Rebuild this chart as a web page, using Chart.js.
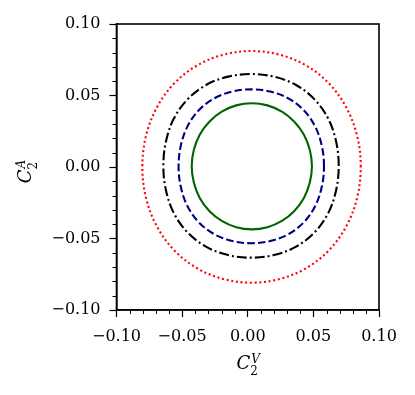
<!DOCTYPE html>
<html>
<head>
<meta charset="utf-8">
<script src="https://cdn.jsdelivr.net/npm/chart.js@4/dist/chart.umd.min.js"></script>
<style>
  html, body { margin: 0; padding: 0; background: #fff; }
</style>
</head>
<body>
<canvas id="c" width="415" height="395"></canvas>
<script>
// --- axis ticks ---
const tickValues = [-0.1, -0.05, 0, 0.05, 0.1];
const tickLabels = ['\u22120.10', '\u22120.05', '0.00', '0.05', '0.10'];
const minorTicks = [-0.09, -0.08, -0.07, -0.06, -0.04, -0.03, -0.02, -0.01,
                    0.01, 0.02, 0.03, 0.04, 0.06, 0.07, 0.08, 0.09];

// --- contours, counter-clockwise from the right ---
const redContour = [
  [0.0861, 0.0001], [0.0835, 0.0211], [0.0755, 0.0409], [0.0623, 0.0580],
  [0.0448, 0.0708], [0.0245, 0.0785], [0.0029, 0.0811], [-0.0187, 0.0785],
  [-0.0390, 0.0708], [-0.0565, 0.0580], [-0.0697, 0.0409], [-0.0777, 0.0211],
  [-0.0803, 0.0001], [-0.0777, -0.0209], [-0.0697, -0.0407], [-0.0565, -0.0578],
  [-0.0390, -0.0706], [-0.0187, -0.0783], [0.0029, -0.0809], [0.0245, -0.0783],
  [0.0448, -0.0706], [0.0623, -0.0578], [0.0755, -0.0407], [0.0835, -0.0209]
];
const blackContour = [
  [0.0693, 0.0008], [0.0674, 0.0175], [0.0615, 0.0335], [0.0509, 0.0473],
  [0.0365, 0.0575], [0.0199, 0.0632], [0.0025, 0.0650], [-0.0149, 0.0632],
  [-0.0315, 0.0575], [-0.0459, 0.0473], [-0.0565, 0.0335], [-0.0624, 0.0175],
  [-0.0643, 0.0008], [-0.0624, -0.0159], [-0.0565, -0.0319], [-0.0459, -0.0457],
  [-0.0315, -0.0559], [-0.0149, -0.0616], [0.0025, -0.0634], [0.0199, -0.0616],
  [0.0365, -0.0559], [0.0509, -0.0457], [0.0615, -0.0319], [0.0674, -0.0159]
];
const navyContour = [
  [0.0581, 0.0005], [0.0565, 0.0145], [0.0516, 0.0279], [0.0429, 0.0395],
  [0.0309, 0.0480], [0.0171, 0.0528], [0.0027, 0.0543], [-0.0117, 0.0528],
  [-0.0255, 0.0480], [-0.0375, 0.0395], [-0.0462, 0.0279], [-0.0511, 0.0145],
  [-0.0527, 0.0005], [-0.0511, -0.0135], [-0.0462, -0.0269], [-0.0375, -0.0385],
  [-0.0255, -0.0470], [-0.0117, -0.0518], [0.0027, -0.0533], [0.0171, -0.0518],
  [0.0309, -0.0470], [0.0429, -0.0385], [0.0516, -0.0269], [0.0565, -0.0135]
];
const greenContour = [
  [0.0489, 0.0005], [0.0473, 0.0119], [0.0428, 0.0226], [0.0355, 0.0317],
  [0.0260, 0.0387], [0.0150, 0.0431], [0.0031, 0.0446], [-0.0088, 0.0431],
  [-0.0198, 0.0387], [-0.0293, 0.0317], [-0.0366, 0.0226], [-0.0411, 0.0119],
  [-0.0427, 0.0005], [-0.0411, -0.0109], [-0.0366, -0.0216], [-0.0293, -0.0307],
  [-0.0198, -0.0377], [-0.0088, -0.0421], [0.0031, -0.0436], [0.0150, -0.0421],
  [0.0260, -0.0377], [0.0355, -0.0307], [0.0428, -0.0216], [0.0473, -0.0109]
];

const tickFont = { family: 'DejaVu Serif', size: 16 };

function toXY(points) {
  return points.map(p => ({ x: p[0], y: p[1] }));
}

// make every contour a closed, smooth loop (same trick the radar chart uses)
const closeLoops = {
  id: 'closeLoops',
  afterDatasetsUpdate(chart) {
    chart.data.datasets.forEach((d, i) => {
      const line = chart.getDatasetMeta(i).dataset;
      if (!line) return;
      line._loop = true;
      line._fullLoop = true;
      line._segments = undefined;
      line._pointsUpdated = false;
    });
  }
};

// frame, minor ticks and the axis titles with sub/superscripts
const extras = {
  id: 'extras',
  afterDraw(chart) {
    const ctx = chart.ctx;
    const a = chart.chartArea;
    const xs = chart.scales.x, ys = chart.scales.y;
    ctx.save();
    ctx.strokeStyle = '#000';
    ctx.lineWidth = 1;
    minorTicks.forEach(v => {
      const px = Math.round(xs.getPixelForValue(v)) + 0.5;
      ctx.beginPath(); ctx.moveTo(px, a.bottom); ctx.lineTo(px, a.bottom + 4); ctx.stroke();
      const py = Math.round(ys.getPixelForValue(v)) + 0.5;
      ctx.beginPath(); ctx.moveTo(a.left - 4, py); ctx.lineTo(a.left, py); ctx.stroke();
    });
    ctx.lineWidth = 1.6;
    ctx.strokeRect(a.left, a.top, a.right - a.left, a.bottom - a.top);

    function label(sup) {
      ctx.font = 'italic 18px "DejaVu Serif"';
      const wC = ctx.measureText('C').width;
      ctx.font = '12px "DejaVu Serif"';
      const w2 = ctx.measureText('2').width;
      ctx.font = 'italic 12px "DejaVu Serif"';
      const wS = ctx.measureText(sup).width;
      const total = wC + Math.max(w2, wS);
      const x0 = -total / 2;
      ctx.fillStyle = '#000';
      ctx.textBaseline = 'alphabetic';
      ctx.textAlign = 'left';
      ctx.font = 'italic 18px "DejaVu Serif"';
      ctx.fillText('C', x0, 0);
      ctx.font = '12px "DejaVu Serif"';
      ctx.fillText('2', x0 + wC, 6);
      ctx.font = 'italic 12px "DejaVu Serif"';
      ctx.fillText(sup, x0 + wC + 1, -6);
    }
    ctx.save();
    ctx.translate((a.left + a.right) / 2, 369);
    label('V');
    ctx.restore();
    ctx.save();
    ctx.translate(31, (a.top + a.bottom) / 2 + 5);
    ctx.rotate(-Math.PI / 2);
    label('A');
    ctx.restore();
    ctx.restore();
  }
};

function axis(fit, pad) {
  return {
    type: 'linear',
    min: -0.1,
    max: 0.1,
    afterBuildTicks(s) { s.ticks = tickValues.map(v => ({ value: v })); },
    afterFit: fit,
    ticks: {
      callback: (v, i) => tickLabels[i],
      font: tickFont,
      color: '#000',
      autoSkip: false,
      maxRotation: 0,
      padding: pad
    },
    grid: {
      drawOnChartArea: false,
      drawTicks: true,
      tickLength: 7,
      tickWidth: 1.2,
      tickColor: '#000'
    },
    border: { display: true, color: '#000', width: 1.6 }
  };
}

new Chart(document.getElementById('c'), {
  type: 'line',
  data: {
    datasets: [
      { data: toXY(redContour), borderColor: '#ff0000', borderWidth: 2.1, borderDash: [2, 2.7] },
      { data: toXY(blackContour), borderColor: '#000000', borderWidth: 2.1, borderDash: [10, 3, 2, 3] },
      { data: toXY(navyContour), borderColor: '#000080', borderWidth: 2.1, borderDash: [7.5, 3.2] },
      { data: toXY(greenContour), borderColor: '#006400', borderWidth: 2.1 }
    ].map(d => Object.assign(d, { pointRadius: 0, tension: 0.35, fill: false, spanGaps: true }))
  },
  options: {
    responsive: false,
    animation: false,
    devicePixelRatio: 1,
    layout: { padding: { top: 24, right: 36, left: 0, bottom: 0 } },
    plugins: { legend: { display: false }, tooltip: { enabled: false } },
    scales: {
      x: axis(s => { s.height = 85; }, 10),
      y: axis(s => { s.width = 116.5; }, 9)
    }
  },
  plugins: [closeLoops, extras]
});
</script>
</body>
</html>
